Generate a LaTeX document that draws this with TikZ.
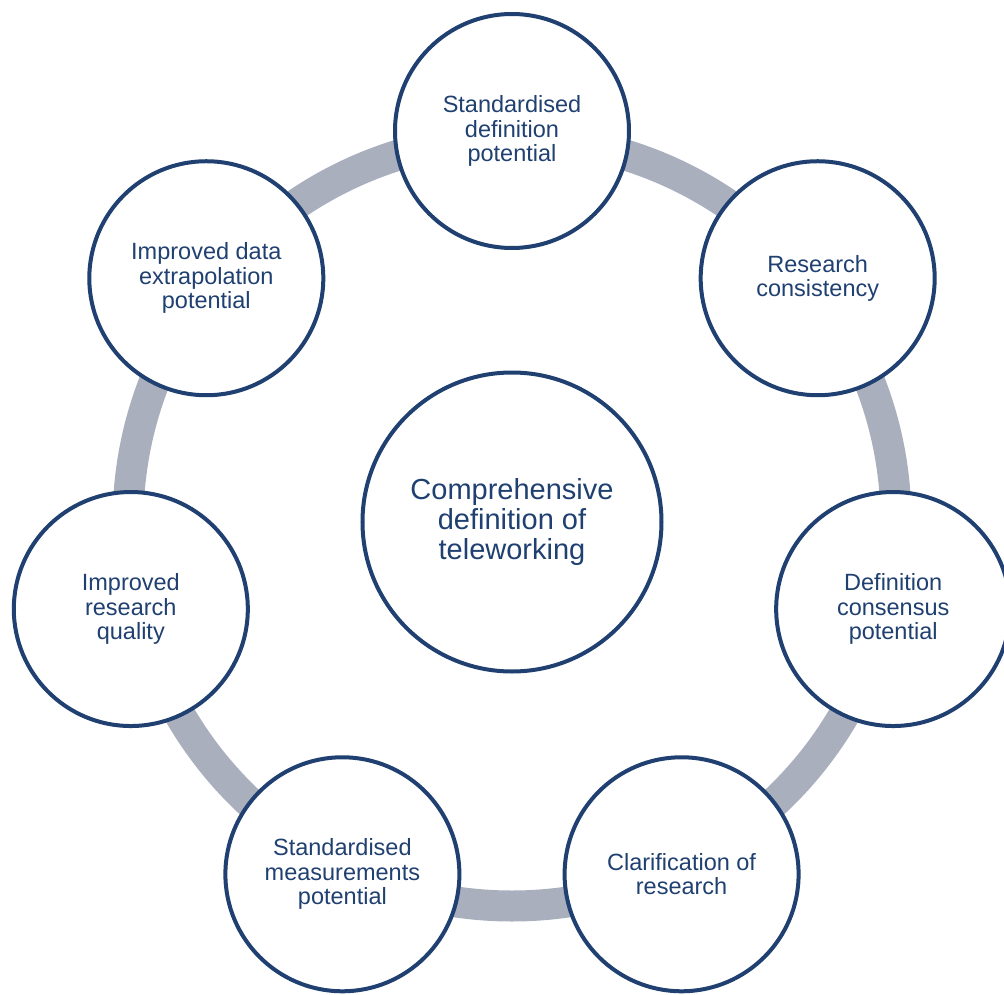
\documentclass[tikz,border=0pt]{standalone}
\usepackage{fontspec}
\setmainfont{Liberation Sans}
\usepackage{tikz}
\usetikzlibrary{calc}

\definecolor{navy}{RGB}{31,64,112}
\definecolor{ringgray}{RGB}{170,175,190}

\begin{document}
\begin{tikzpicture}[x=1pt,y=1pt]
  \tikzset{
    hub/.style={draw=navy, circle, fill=white, line width=4pt, minimum size=299pt, inner sep=0pt, align=center, text=navy, font=\fontsize{29}{30}\selectfont},
    item/.style={draw=navy, circle, fill=white, line width=4pt, minimum size=234pt, inner sep=0pt, align=center, text=navy, font=\fontsize{23.5}{24.5}\selectfont},
    ring/.style={draw=ringgray, line width=31pt}
  }
  \useasboundingbox (-512,-472) rectangle (492,522);
  \coordinate (mid) at (0,0);
  \draw [ring] (mid) circle [radius=384];
  \node [hub] (core) at (mid) {Comprehensive\\definition of\\teleworking};
  \node [item] (sdp) at (90:391) {Standardised\\definition\\potential};
  \node [item] (rc) at (38.57:391) {Research\\consistency};
  \node [item] (dcp) at (-12.86:391) {Definition\\consensus\\potential};
  \node [item] (cor) at (-64.29:391) {Clarification of\\research};
  \node [item] (smp) at (-115.71:391) {Standardised\\measurements\\potential};
  \node [item] (irq) at (-167.14:391) {Improved\\research\\quality};
  \node [item] (idep) at (141.43:391) {Improved data\\extrapolation\\potential};
\end{tikzpicture}
\end{document}
